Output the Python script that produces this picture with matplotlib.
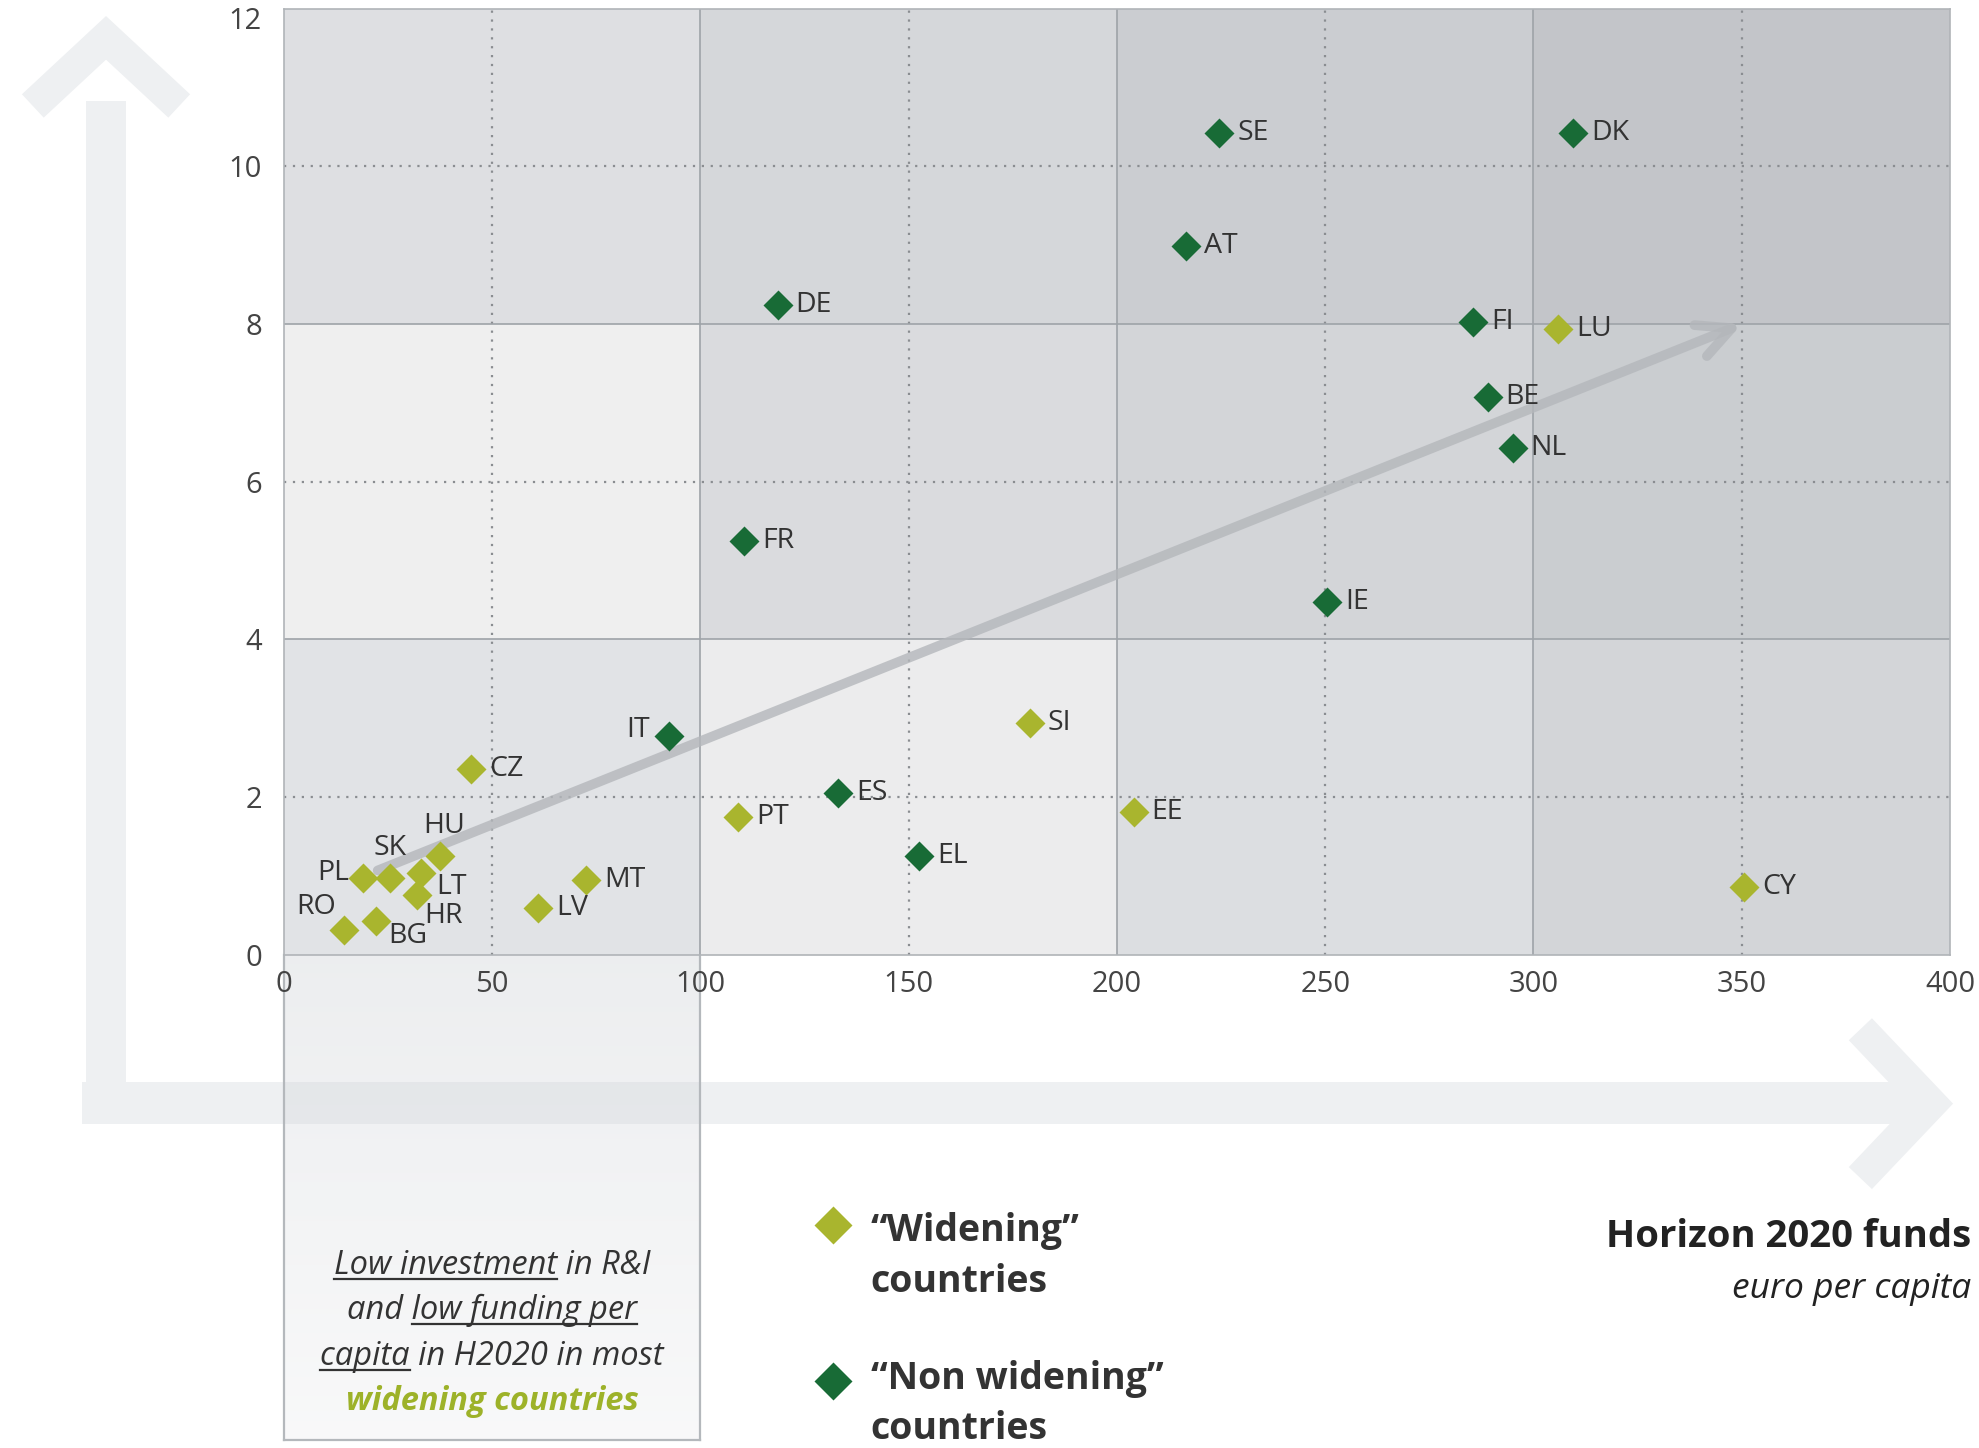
import matplotlib
matplotlib.use('Agg')
import matplotlib.pyplot as plt
import matplotlib.transforms as mtransforms
from matplotlib.patches import Rectangle
import numpy as np

plt.rcParams['font.family'] = ['Open Sans', 'DejaVu Sans']

# "widening" countries
wid_codes = ['CZ', 'HU', 'SK', 'PL', 'LT', 'HR', 'RO', 'BG', 'LV', 'MT', 'PT', 'SI', 'EE', 'CY', 'LU']
wid_x = [45, 37.5, 25.5, 19, 33, 32, 14.5, 22, 61, 72.5, 109, 179, 204, 350.5, 306]
wid_y = [2.36, 1.25, 0.97, 0.98, 1.04, 0.76, 0.32, 0.43, 0.60, 0.95, 1.75, 2.94, 1.81, 0.86, 7.94]

# "non widening" countries
non_codes = ['SE', 'DK', 'AT', 'DE', 'FI', 'BE', 'NL', 'FR', 'IE', 'IT', 'ES', 'EL']
non_x = [224.5, 309.5, 216.5, 118.5, 285.5, 289, 295, 110.5, 250.5, 92.5, 133, 152.5]
non_y = [10.42, 10.42, 8.99, 8.24, 8.03, 7.07, 6.43, 5.25, 4.48, 2.78, 2.05, 1.25]

x_ticks = [0, 50, 100, 150, 200, 250, 300, 350, 400]
y_ticks = [0, 2, 4, 6, 8, 10, 12]
x_edges = [0, 100, 200, 300, 400]
y_edges = [0, 4, 8, 12]
trend_start = (22.5, 1.07)
trend_end = (350, 8.0)

# cell shades, rows bottom->top, cols left->right
cell_colors = [['#e1e3e6', '#ececed', '#dcdee1', '#d3d5d8'],
               ['#efefef', '#dadbde', '#d3d5d8', '#cacdd0'],
               ['#dedfe2', '#d5d7da', '#cbcdd1', '#c3c5c9']]

LIGHT = '#a9b52e'
DARK = '#186b36'
TXT = '#333333'

W, H = 1568.0, 1148.0  # layout frame (scaled to output)
def fx(x): return x / W
def fy(y): return 1 - y / H

fig = plt.figure(figsize=(19.79, 14.48), dpi=100)

# big decorative arrows behind everything
bg = fig.add_axes([0, 0, 1, 1], zorder=0)
bg.set_xlim(0, W); bg.set_ylim(H, 0); bg.axis('off')
arr_c = '#eef0f2'
bg.add_patch(Rectangle((65, 858), 1465, 33, color=arr_c, lw=0))
bg.add_patch(Rectangle((68, 80), 32, 811, color=arr_c, lw=0))
bg.plot([1474, 1530, 1474], [816, 875, 934], color=arr_c, lw=23,
        solid_joinstyle='miter', solid_capstyle='butt')
bg.plot([26, 84, 142], [84, 30, 84], color=arr_c, lw=23,
        solid_joinstyle='miter', solid_capstyle='butt')

# main axes
ax_l, ax_r, ax_b, ax_t = fx(225), fx(1545), fy(757), fy(7)
ax = fig.add_axes([ax_l, ax_b, ax_r - ax_l, ax_t - ax_b], zorder=2)
ax.set_facecolor('none')

# low-investment box below the first column
box_w = (ax_r - ax_l) * (x_edges[1] - x_edges[0]) / (x_edges[-1] - x_edges[0])
box = fig.add_axes([ax_l, fy(1142), box_w, ax_b - fy(1142)], zorder=1)
grad = np.zeros((100, 1, 4))
grad[..., 0] = 0xd3 / 255; grad[..., 1] = 0xd6 / 255; grad[..., 2] = 0xda / 255
grad[:, 0, 3] = np.linspace(0.42, 0.15, 100)
box.imshow(grad, extent=[0, 1, 0, 1], aspect='auto', origin='upper')
box.set_xlim(0, 1); box.set_ylim(0, 1)
box.set_xticks([]); box.set_yticks([])
box.set_facecolor('none')
for s in ['left', 'right', 'bottom']:
    box.spines[s].set_color('#b4b8bc'); box.spines[s].set_linewidth(1.6)
box.spines['top'].set_visible(False)

# quadrant shading
for i in range(len(y_edges) - 1):
    for j in range(len(x_edges) - 1):
        ax.add_patch(Rectangle((x_edges[j], y_edges[i]), x_edges[j + 1] - x_edges[j],
                               y_edges[i + 1] - y_edges[i], color=cell_colors[i][j], lw=0, zorder=0))

for xv in x_ticks[1:-1]:
    if xv in x_edges:
        ax.axvline(xv, color='#9ea3a8', lw=1.2, zorder=1)
    else:
        ax.axvline(xv, color='#8a8d91', lw=1.6, ls=(0, (1, 3)), zorder=1)
for yv in y_ticks[1:-1]:
    if yv in y_edges:
        ax.axhline(yv, color='#9ea3a8', lw=1.2, zorder=1)
    else:
        ax.axhline(yv, color='#8a8d91', lw=1.6, ls=(0, (1, 3)), zorder=1)

ax.set_xlim(x_ticks[0], x_ticks[-1])
ax.set_ylim(y_ticks[0], y_ticks[-1])
ax.set_xticks(x_ticks)
ax.set_yticks(y_ticks)
ax.tick_params(length=0, labelsize=21, labelcolor='#444444')
ax.tick_params(axis='x', pad=11)
ax.tick_params(axis='y', pad=16)
for s in ax.spines.values():
    s.set_color('#b0b4b8'); s.set_linewidth(1.2)
# top label sits a little lower, as in the original
top_lab = ax.get_yticklabels()[-1]
top_lab.set_transform(top_lab.get_transform() +
                      mtransforms.ScaledTranslation(0, -9 / 100, fig.dpi_scale_trans))

# trend arrow
ax.annotate('', xy=trend_end, xytext=trend_start,
            arrowprops=dict(arrowstyle='->,head_length=2.4,head_width=1.2', lw=7,
                            color='#b4b7bb', alpha=0.8, shrinkA=0, shrinkB=0), zorder=2)

ax.plot(wid_x, wid_y, 'D', ms=15.5, color=LIGHT, mec='none', zorder=4, clip_on=False)
ax.plot(non_x, non_y, 'D', ms=15.5, color=DARK, mec='none', zorder=4, clip_on=False)

special = {'PL': (-10, 3, 'right'), 'SK': (0, 22, 'center'), 'HU': (3, 22, 'center'),
           'LT': (11, -10, 'left'), 'HR': (5, -15, 'left'), 'RO': (-6, 16, 'right'),
           'BG': (9, -11, 'left'), 'IT': (-14, 4, 'right')}
for codes, xs, ys in [(wid_codes, wid_x, wid_y), (non_codes, non_x, non_y)]:
    for c, xv, yv in zip(codes, xs, ys):
        dx, dy, ha = special.get(c, (13, 0, 'left'))
        ax.annotate(c, (xv, yv), xytext=(dx, dy), textcoords='offset points',
                    ha=ha, va='center', fontsize=20.5, color=TXT, zorder=5)

# legend
fig.lines.append(plt.Line2D([fx(660)], [fy(971)], marker='D', ms=19, color=LIGHT,
                            mec='none', transform=fig.transFigure))
fig.lines.append(plt.Line2D([fx(660)], [fy(1095)], marker='D', ms=19, color=DARK,
                            mec='none', transform=fig.transFigure))
leg_kw = dict(fontsize=27, fontweight='bold', color=TXT, ha='left', va='baseline')
fig.text(fx(690), fy(984), '\u201cWidening\u201d', **leg_kw)
fig.text(fx(690), fy(1024), 'countries', **leg_kw)
fig.text(fx(690), fy(1101), '\u201cNon widening\u201d', **leg_kw)
fig.text(fx(690), fy(1141), 'countries', **leg_kw)

# axis title bottom right
fig.text(fx(1562), fy(989), 'Horizon 2020 funds', fontsize=27.5, fontweight='bold',
         color='#222222', ha='right', va='baseline')
fig.text(fx(1562), fy(1029), 'euro per capita', fontsize=25.5, style='italic',
         color='#222222', ha='right', va='baseline')

# box text with underlines
fig.canvas.draw()
rend = fig.canvas.get_renderer()
box_kw = dict(fontsize=23.5, style='italic', color=TXT)
box_cx = fx((225 + 555) / 2)
box_lines = [('Low investment in R&I', [(0, 'Low investment')], 1010),
             ('and low funding per', [(4, 'low funding per')], 1046),
             ('capita in H2020 in most', [(0, 'capita')], 1082)]

def ink_w(s):
    t = fig.text(0, 0, s, **box_kw)
    w = t.get_window_extent(rend).width
    t.remove()
    return w

fw, fh = fig.get_size_inches() * fig.dpi
for line, spans, yb in box_lines:
    t = fig.text(box_cx, fy(yb), line, ha='center', va='baseline', **box_kw)
    bb = t.get_window_extent(rend)
    for start, seg in spans:
        x1 = bb.x0 + ink_w(line[:start] + seg)
        x0 = x1 - ink_w(seg)
        yy = fy(yb) - 5 / fh
        fig.lines.append(plt.Line2D([x0 / fw, x1 / fw], [yy, yy], color=TXT, lw=1.6,
                                    transform=fig.transFigure))
fig.text(box_cx, fy(1118), 'widening countries', ha='center', va='baseline',
         fontsize=23.5, style='italic', fontweight='bold', color='#9db229')

fig.savefig('out.png', dpi=100)
